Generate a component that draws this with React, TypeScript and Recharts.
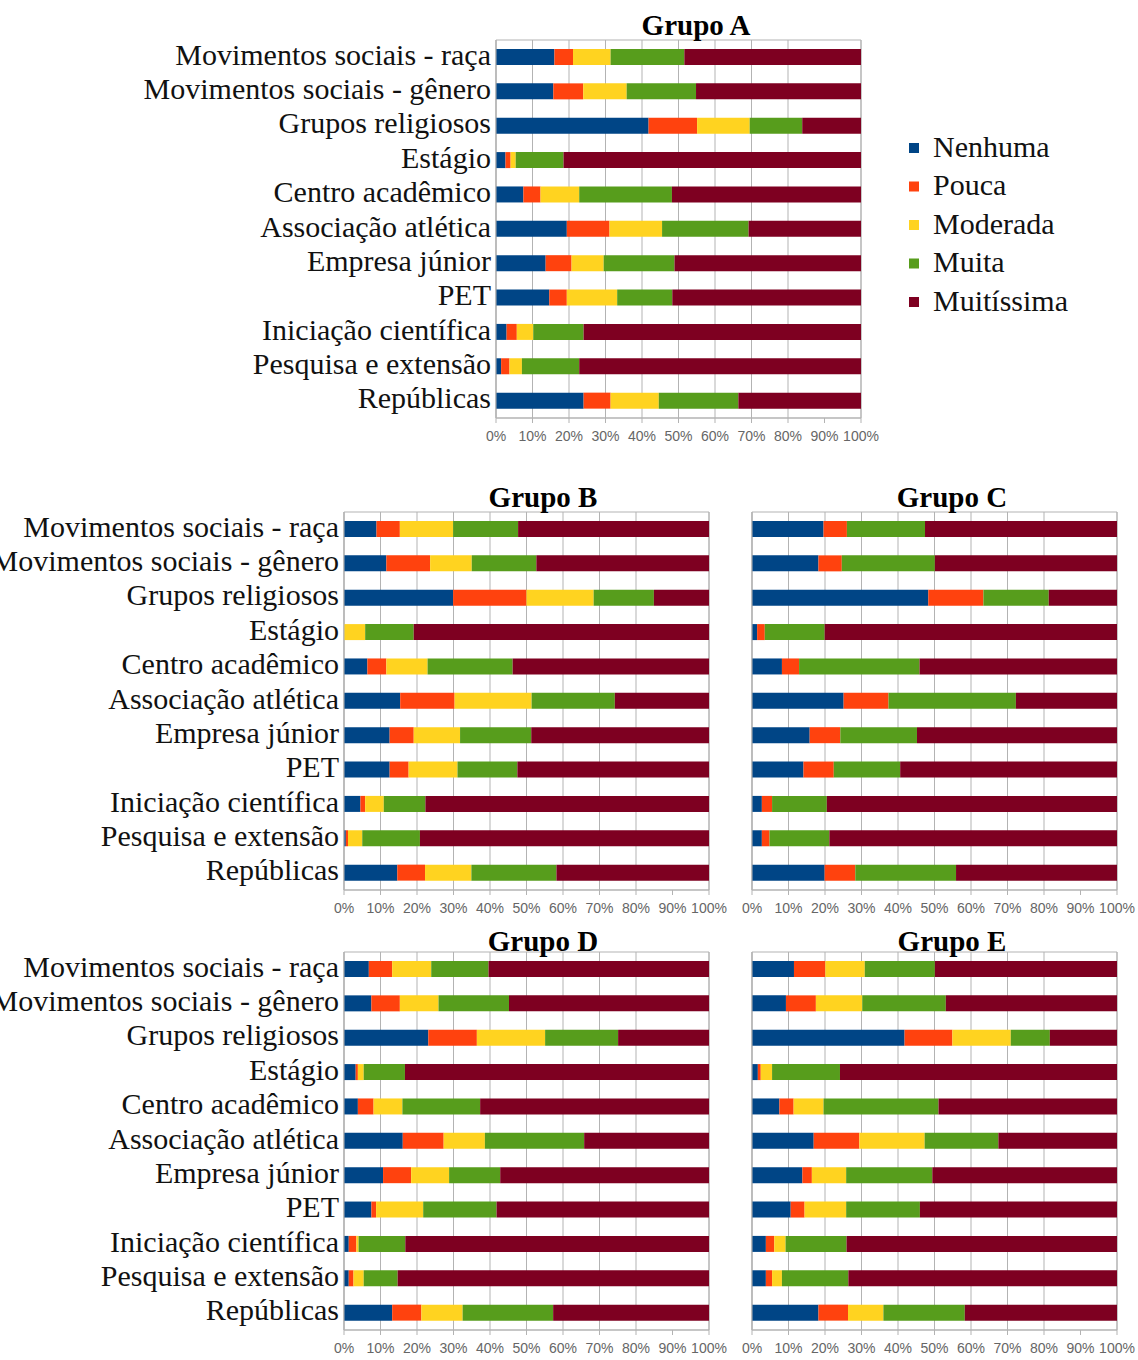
import React from 'react';
import { BarChart, Bar, XAxis, YAxis, CartesianGrid, ReferenceArea, Legend } from 'recharts';

const categories = [
  'Movimentos sociais - raça',
  'Movimentos sociais - gênero',
  'Grupos religiosos',
  'Estágio',
  'Centro acadêmico',
  'Associação atlética',
  'Empresa júnior',
  'PET',
  'Iniciação científica',
  'Pesquisa e extensão',
  'Repúblicas',
];

const levels = ['Nenhuma', 'Pouca', 'Moderada', 'Muita', 'Muitíssima'];
const levelColors = ['#004586', '#ff420e', '#ffd320', '#579d1c', '#7e0021'];
const percentTicks = [0, 0.1, 0.2, 0.3, 0.4, 0.5, 0.6, 0.7, 0.8, 0.9, 1];

// Grupo A
const grupoA_Nenhuma = [16.0, 15.7, 41.8, 2.6, 7.5, 19.4, 13.6, 14.6, 2.9, 1.4, 24.0];
const grupoA_Pouca = [5.1, 8.2, 13.3, 1.4, 4.7, 11.7, 7.1, 4.8, 2.8, 2.3, 7.4];
const grupoA_Moderada = [10.3, 11.9, 14.4, 1.4, 10.6, 14.4, 8.8, 13.8, 4.5, 3.4, 13.2];
const grupoA_Muita = [20.2, 19.0, 14.4, 13.1, 25.4, 23.7, 19.4, 15.1, 13.8, 15.7, 21.8];
const grupoA_Muitissima = [48.4, 45.2, 16.1, 81.5, 51.8, 30.8, 51.1, 51.7, 76.0, 77.2, 33.6];

// Grupo B
const grupoB_Nenhuma = [8.9, 11.6, 29.9, 0, 6.4, 15.4, 12.5, 12.5, 4.5, 0.5, 14.6];
const grupoB_Pouca = [6.4, 12.0, 20.1, 0, 5.2, 14.9, 6.6, 5.2, 1.3, 0.6, 7.6];
const grupoB_Moderada = [14.6, 11.4, 18.4, 5.8, 11.3, 21.1, 12.7, 13.4, 5.1, 3.9, 12.7];
const grupoB_Muita = [17.8, 17.7, 16.5, 13.3, 23.3, 22.8, 19.5, 16.4, 11.4, 15.8, 23.3];
const grupoB_Muitissima = [52.3, 47.3, 15.1, 80.9, 53.8, 25.8, 48.7, 52.5, 77.7, 79.2, 41.8];

// Grupo C
const grupoC_Nenhuma = [19.6, 18.2, 48.3, 1.4, 8.2, 25.1, 15.8, 14.1, 2.7, 2.7, 19.9];
const grupoC_Pouca = [6.4, 6.4, 15.1, 2.1, 4.7, 12.3, 8.4, 8.3, 2.8, 2.1, 8.4];
const grupoC_Moderada = [0, 0, 0, 0, 0, 0, 0, 0, 0, 0, 0];
const grupoC_Muita = [21.4, 25.5, 17.9, 16.4, 33.0, 34.9, 21.0, 18.2, 15.0, 16.4, 27.6];
const grupoC_Muitissima = [52.6, 49.9, 18.7, 80.1, 54.1, 27.7, 54.8, 59.4, 79.5, 78.8, 44.1];

// Grupo D
const grupoD_Nenhuma = [6.8, 7.5, 23.1, 3.2, 3.8, 16.1, 10.7, 7.5, 1.3, 1.3, 13.2];
const grupoD_Pouca = [6.4, 7.8, 13.3, 0.6, 4.3, 11.2, 7.7, 1.3, 2.1, 1.3, 8.0];
const grupoD_Moderada = [10.7, 10.6, 18.7, 1.6, 7.9, 11.3, 10.4, 12.9, 0.6, 2.8, 11.3];
const grupoD_Muita = [15.7, 19.3, 20.0, 11.3, 21.3, 27.2, 14.0, 20.1, 12.8, 9.3, 24.8];
const grupoD_Muitissima = [60.4, 54.8, 24.9, 83.3, 62.7, 34.2, 57.2, 58.2, 83.2, 85.3, 42.7];

// Grupo E
const grupoE_Nenhuma = [11.5, 9.3, 41.8, 1.6, 7.5, 16.9, 13.8, 10.6, 3.8, 3.8, 18.2];
const grupoE_Pouca = [8.6, 8.2, 13.1, 0.8, 3.9, 12.5, 2.6, 3.8, 2.3, 1.7, 8.1];
const grupoE_Moderada = [10.8, 12.7, 16.0, 3.1, 8.2, 17.9, 9.4, 11.4, 3.1, 2.7, 9.7];
const grupoE_Muita = [19.2, 22.9, 10.7, 18.6, 31.5, 20.2, 23.6, 20.2, 16.7, 18.2, 22.3];
const grupoE_Muitissima = [49.9, 46.9, 18.4, 75.9, 48.9, 32.5, 50.6, 54.0, 74.1, 73.6, 41.7];

function buildRows(series: number[][]) {
  return categories.map((c, i) => {
    const row: any = { categoria: c };
    levels.forEach((l, j) => {
      row[l] = series[j][i];
    });
    return row;
  });
}

const rowsA = buildRows([grupoA_Nenhuma, grupoA_Pouca, grupoA_Moderada, grupoA_Muita, grupoA_Muitissima]);
const rowsB = buildRows([grupoB_Nenhuma, grupoB_Pouca, grupoB_Moderada, grupoB_Muita, grupoB_Muitissima]);
const rowsC = buildRows([grupoC_Nenhuma, grupoC_Pouca, grupoC_Moderada, grupoC_Muita, grupoC_Muitissima]);
const rowsD = buildRows([grupoD_Nenhuma, grupoD_Pouca, grupoD_Moderada, grupoD_Muita, grupoD_Muitissima]);
const rowsE = buildRows([grupoE_Nenhuma, grupoE_Pouca, grupoE_Moderada, grupoE_Muita, grupoE_Muitissima]);

const SERIF = '"Liberation Serif", "Times New Roman", serif';
const SANS = '"Liberation Sans", Arial, sans-serif';
const GRID = '#b3b3b3';

const CategoryTick = (props: any) => {
  const { x, y, payload } = props;
  return (
    <text
      x={x + 1}
      y={y - 3}
      textAnchor="end"
      dominantBaseline="central"
      fontFamily={SERIF}
      fontSize={30}
      fill="#111"
    >
      {payload.value}
    </text>
  );
};

const LegendContent = (props: any) => {
  const payload = [...(props.payload || [])].sort(
    (a: any, b: any) => levels.indexOf(a.value) - levels.indexOf(b.value)
  );
  return (
    <svg width={200} height={200} style={{ overflow: 'visible' }}>
      {payload.map((e: any, i: number) => {
        const cy = 20 + i * 38.5;
        return (
          <g key={e.value}>
            <rect x={9} y={cy - 5} width={10} height={10} fill={e.color} />
            <text x={33} y={cy - 2} dominantBaseline="central" fontFamily={SERIF} fontSize={30} fill="#111">
              {e.value}
            </text>
          </g>
        );
      })}
    </svg>
  );
};

type PanelProps = {
  left: number;
  top: number;
  width: number;
  height: number;
  rows: any[];
  yWidth: number;
  margin: { top: number; right: number; bottom: number; left: number };
  showLabels: boolean;
  legend?: boolean;
};

function Panel({ left, top, width, height, rows, yWidth, margin, showLabels, legend }: PanelProps) {
  return (
    <div style={{ position: 'absolute', left, top, width, height }}>
      <BarChart
        width={width}
        height={height}
        data={rows}
        layout="vertical"
        stackOffset="expand"
        margin={margin}
        barSize={16}
      >
        <CartesianGrid vertical horizontal={false} stroke={GRID} strokeWidth={1} />
        <XAxis
          type="number"
          domain={[0, 1]}
          ticks={percentTicks}
          allowDataOverflow
          height={30}
          tickSize={5}
          tickMargin={8}
          stroke={GRID}
          tick={{ fontSize: 14, fill: '#666', fontFamily: SANS }}
          tickFormatter={(v: number) => `${Math.round(v * 100)}%`}
        />
        <YAxis
          type="category"
          dataKey="categoria"
          width={yWidth}
          stroke={GRID}
          tickLine={false}
          tickSize={4}
          tickMargin={2}
          interval={0}
          tick={showLabels ? <CategoryTick /> : false}
        />
        <ReferenceArea x1={0} x2={1} fill="none" stroke={GRID} strokeWidth={1} ifOverflow="extendDomain" />
        {levels.map((l, i) => (
          <Bar key={l} dataKey={l} name={l} stackId="s" fill={levelColors[i]} isAnimationActive={false} />
        ))}
        {legend ? (
          <Legend
            layout="vertical"
            align="center"
            verticalAlign="middle"
            content={<LegendContent />}
            wrapperStyle={{ position: 'absolute', left: 900, top: 128, width: 200, height: 200 }}
          />
        ) : null}
      </BarChart>
    </div>
  );
}

const Title = ({ text, cx, cy }: { text: string; cx: number; cy: number }) => (
  <div
    style={{
      position: 'absolute',
      left: cx - 100,
      top: cy - 16,
      width: 200,
      height: 32,
      lineHeight: '32px',
      textAlign: 'center',
      fontFamily: SERIF,
      fontWeight: 'bold',
      fontSize: 29,
      color: '#000',
      whiteSpace: 'nowrap',
    }}
  >
    {text}
  </div>
);

export default function App() {
  return (
    <div style={{ position: 'absolute', left: 0, top: 0, width: 1138, height: 1360, background: '#fff', overflow: 'hidden' }}>
      <Panel left={0} top={0} width={1138} height={455} rows={rowsA} yWidth={496}
        margin={{ top: 40, right: 277, bottom: 7, left: 0 }} showLabels legend />
      <Panel left={0} top={470} width={730} height={455} rows={rowsB} yWidth={344}
        margin={{ top: 42, right: 21, bottom: 5, left: 0 }} showLabels />
      <Panel left={730} top={470} width={408} height={455} rows={rowsC} yWidth={22}
        margin={{ top: 42, right: 21, bottom: 5, left: 0 }} showLabels={false} />
      <Panel left={0} top={915} width={730} height={445} rows={rowsD} yWidth={344}
        margin={{ top: 37, right: 21, bottom: 0, left: 0 }} showLabels />
      <Panel left={730} top={915} width={408} height={445} rows={rowsE} yWidth={22}
        margin={{ top: 37, right: 21, bottom: 0, left: 0 }} showLabels={false} />
      <Title text="Grupo A" cx={696} cy={25} />
      <Title text="Grupo B" cx={543} cy={497} />
      <Title text="Grupo C" cx={952} cy={497} />
      <Title text="Grupo D" cx={543} cy={941} />
      <Title text="Grupo E" cx={952} cy={941} />
    </div>
  );
}
